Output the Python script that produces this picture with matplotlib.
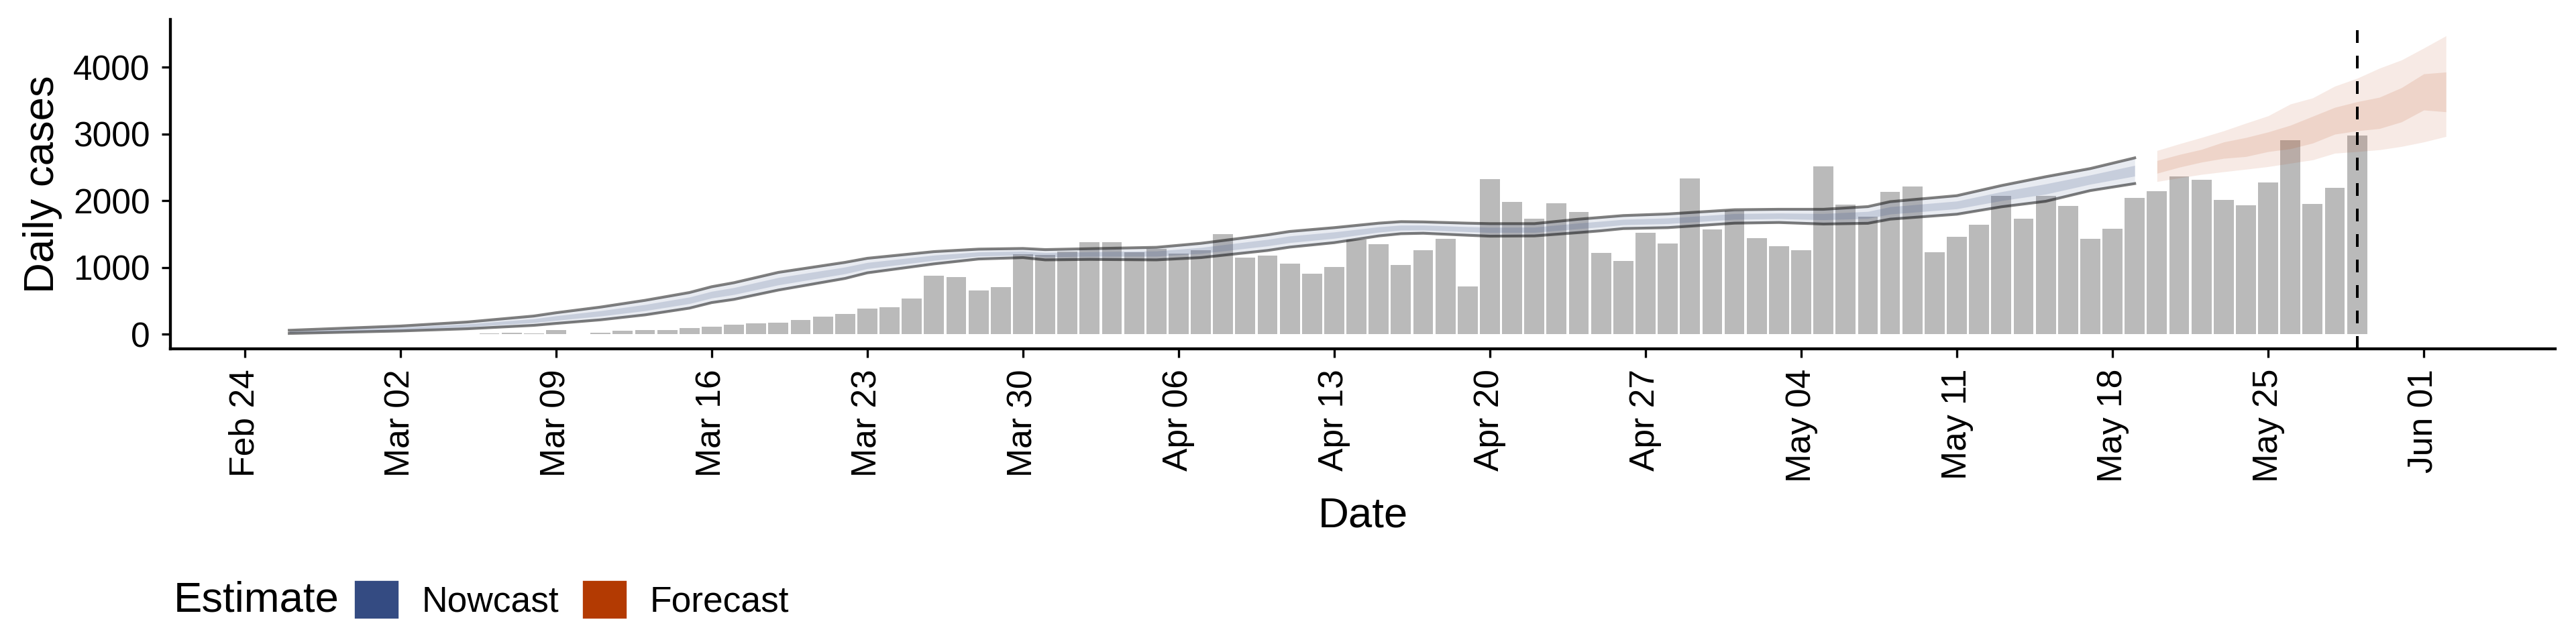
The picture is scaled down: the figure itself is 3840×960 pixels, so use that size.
import pandas as pd
import matplotlib
matplotlib.use('Agg')
import matplotlib.pyplot as plt
import matplotlib.dates as mdates
from matplotlib.patches import Patch

plt.rcParams['font.family'] = ['Liberation Sans', 'DejaVu Sans']

# --------------------------------------
# Data

# reported daily cases, one bar per day from Feb 26 to May 29 2020
case_dates = pd.date_range('2020-02-26', '2020-05-29', freq='D')
cases = [3, 0, 0, 0,  # Feb 26-29
         0, 0, 0, 4, 4, 6, 22, 8, 60, 0, 22, 50, 60, 60, 92, 112,
         143, 161, 171, 212, 261, 302, 382, 402, 533, 874, 854, 653, 703,
         1200, 1185,  # March
         1236, 1377, 1377, 1226, 1276, 1203, 1256, 1497, 1146, 1176, 1055,
         905, 1005, 1420, 1347, 1035, 1256, 1427, 714, 2322, 1980, 1729,
         1960, 1829, 1216, 1095, 1518, 1357, 2332, 1568,  # April
         1846, 1437, 1317, 1256, 2513, 1940, 1760, 2131, 2211, 1226, 1457,
         1638, 2070, 1729, 2070, 1920, 1427, 1578, 2040, 2141, 2362, 2312,
         2010, 1930, 2271, 2905, 1950, 2191, 2975]  # May

# nowcast credible intervals
nowcast_dates = pd.to_datetime([
    '2020-02-26', '2020-03-02', '2020-03-05', '2020-03-08', '2020-03-09',
    '2020-03-11', '2020-03-13', '2020-03-15', '2020-03-16', '2020-03-17',
    '2020-03-19', '2020-03-22', '2020-03-23', '2020-03-26', '2020-03-28',
    '2020-03-30', '2020-03-31', '2020-04-02', '2020-04-05', '2020-04-07',
    '2020-04-10', '2020-04-11', '2020-04-13', '2020-04-15', '2020-04-16',
    '2020-04-17', '2020-04-19', '2020-04-20', '2020-04-22', '2020-04-24',
    '2020-04-25', '2020-04-26', '2020-04-28', '2020-05-01', '2020-05-03',
    '2020-05-05', '2020-05-07', '2020-05-08', '2020-05-11', '2020-05-13',
    '2020-05-15', '2020-05-17', '2020-05-19'])
nowcast_lower90 = [10, 47, 80, 131, 160, 214, 288, 389, 472, 520, 660, 834,
                   918, 1052, 1125, 1146, 1112, 1119, 1112, 1146, 1253, 1303,
                   1370, 1471, 1504, 1511, 1481, 1467, 1471, 1521, 1548, 1581,
                   1595, 1662, 1672, 1649, 1660, 1722, 1796, 1907, 1990, 2150,
                   2255]
nowcast_upper90 = [57, 121, 181, 271, 320, 405, 506, 623, 710, 770, 925, 1075,
                   1136, 1236, 1273, 1283, 1266, 1280, 1300, 1360, 1487, 1538,
                   1595, 1662, 1685, 1681, 1662, 1655, 1655, 1722, 1749, 1776,
                   1800, 1863, 1870, 1870, 1910, 1984, 2074, 2225, 2358, 2480,
                   2640]
nowcast_lower50 = [24, 68, 110, 172, 206, 270, 351, 457, 541, 593, 737, 904,
                   981, 1105, 1168, 1186, 1157, 1166, 1167, 1208, 1321, 1371,
                   1435, 1527, 1557, 1560, 1534, 1522, 1524, 1579, 1606, 1638,
                   1655, 1720, 1729, 1713, 1732, 1798, 1877, 1999, 2097, 2246,
                   2367]
nowcast_upper50 = [43, 100, 152, 230, 274, 350, 443, 555, 641, 697, 848, 1005,
                   1073, 1183, 1230, 1243, 1221, 1233, 1245, 1298, 1419, 1470,
                   1530, 1607, 1632, 1632, 1609, 1600, 1602, 1664, 1691, 1719,
                   1740, 1805, 1813, 1806, 1838, 1908, 1993, 2133, 2251, 2384,
                   2528]

# forecast credible intervals
forecast_dates = pd.date_range('2020-05-20', '2020-06-02', freq='D')
forecast_lower90 = [2285, 2340, 2392, 2432, 2470, 2509, 2560, 2610, 2710,
                    2734, 2761, 2811, 2878, 2961]
forecast_upper90 = [2750, 2850, 2945, 3045, 3160, 3270, 3447, 3538, 3715,
                    3832, 3983, 4107, 4285, 4469]
forecast_lower50 = [2409, 2500, 2576, 2633, 2660, 2734, 2777, 2861, 2995,
                    3045, 3079, 3179, 3357, 3330]
forecast_upper50 = [2600, 2690, 2767, 2878, 2945, 3028, 3129, 3263, 3397,
                    3481, 3548, 3692, 3899, 3926]

data_cutoff = pd.Timestamp('2020-05-29')

nowcast_col = '#344B82'
forecast_col = '#B33A02'

# --------------------------------------
# Plot

fig = plt.figure(figsize=(16, 4), dpi=240)
ax = fig.add_axes([0.0661, 0.4583, 0.9259, 0.5115])

ax.bar(case_dates, cases, width=0.9, color='#BABABA', linewidth=0, zorder=1)

ax.fill_between(nowcast_dates, nowcast_lower90, nowcast_upper90,
                color=nowcast_col, alpha=0.11, linewidth=0, zorder=2)
ax.fill_between(nowcast_dates, nowcast_lower50, nowcast_upper50,
                color=nowcast_col, alpha=0.18, linewidth=0, zorder=2)
ax.plot(nowcast_dates, nowcast_lower90, color='black', alpha=0.5, lw=1.25, zorder=3)
ax.plot(nowcast_dates, nowcast_upper90, color='black', alpha=0.5, lw=1.25, zorder=3)

ax.fill_between(forecast_dates, forecast_lower90, forecast_upper90,
                color=forecast_col, alpha=0.10, linewidth=0, zorder=2)
ax.fill_between(forecast_dates, forecast_lower50, forecast_upper50,
                color=forecast_col, alpha=0.12, linewidth=0, zorder=2)

ax.axvline(data_cutoff, color='black', lw=1.2, ls=(0, (4.75, 4.75)), zorder=4)

start = pd.Timestamp('2020-02-24')
ax.set_xlim(start - pd.Timedelta(days=3.35), start + pd.Timedelta(days=103.92))
ax.set_ylim(-221, 4714)
ax.set_yticks([0, 1000, 2000, 3000, 4000])
ax.xaxis.set_major_locator(mdates.WeekdayLocator(byweekday=mdates.MO))
ax.xaxis.set_major_formatter(mdates.DateFormatter('%b %d'))
plt.setp(ax.get_xticklabels(), rotation=90)

for side in ['top', 'right']:
    ax.spines[side].set_visible(False)
for side in ['left', 'bottom']:
    ax.spines[side].set_linewidth(1.3)
ax.tick_params(length=4, width=1.0, labelsize=15.5, pad=5, colors='black')

ax.set_ylabel('Daily cases', fontsize=19, labelpad=5)
ax.set_xlabel('Date', fontsize=19, labelpad=6)

# legend at the bottom, title on the left like ggplot
fig.text(0.0674, 0.0677, 'Estimate', fontsize=19, va='center', ha='left')
handles = [Patch(color=nowcast_col, label='Nowcast'),
           Patch(color=forecast_col, label='Forecast')]
fig.legend(handles=handles, loc='center left', bbox_to_anchor=(0.138, 0.0677),
           ncol=2, frameon=False, fontsize=16, handlelength=1.16,
           handleheight=1.16, handletextpad=0.69, columnspacing=0.69,
           borderpad=0, borderaxespad=0)

fig.savefig('out.png', dpi=240)
